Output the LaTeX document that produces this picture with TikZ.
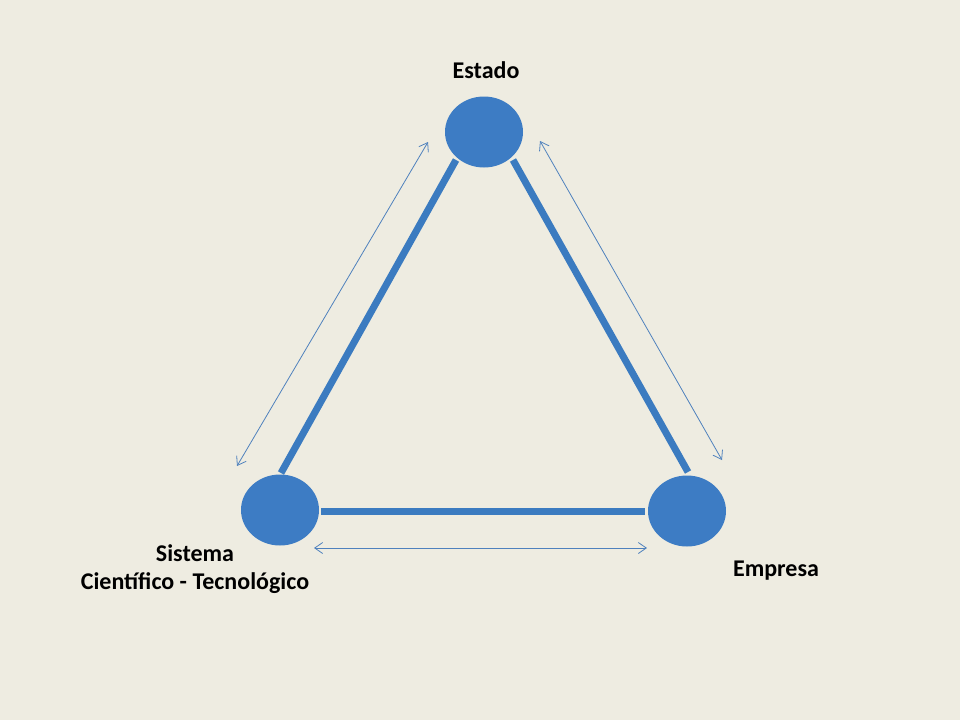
\documentclass[tikz,border=0pt]{standalone}
\usepackage{fontspec}
\setmainfont{Carlito}
\usetikzlibrary{shapes.geometric,arrows.meta,calc}
\definecolor{bg}{HTML}{EEECE1}
\definecolor{nodeblue}{HTML}{3D7CC4}
\definecolor{linkblue}{HTML}{3B7BC0}
\definecolor{arrblue}{HTML}{4F81BD}
\tikzset{
  actor/.style={ellipse,fill=nodeblue,minimum width=78pt,minimum height=71pt,inner sep=0pt},
  link/.style={draw=linkblue,line width=7pt},
  flow/.style={draw=arrblue,line width=0.8pt,{Straight Barb[length=8pt,width=11pt]}-{Straight Barb[length=8pt,width=11pt]}},
  lbl/.style={font=\bfseries\fontsize{24}{28}\selectfont,text=black,align=center,inner sep=0pt}
}
\begin{document}
\begin{tikzpicture}[x=1pt,y=-1pt]
\fill[bg] (0,0) rectangle (960,720);
\useasboundingbox (0,0) rectangle (960,720);
\node[actor] (E) at (484,132) {};
\node[actor] (S) at (280,510) {};
\node[actor] (M) at (687,511) {};
\coordinate (e1) at ($(E)+(-28,28)$);
\coordinate (s1) at ($(S)+(1,-37)$);
\coordinate (e2) at ($(E)+(29,28)$);
\coordinate (m2) at ($(M)+(1,-39)$);
\coordinate (s3) at ($(S)+(41,1)$);
\coordinate (m3) at ($(M)+(-42,0)$);
\draw[link] (e1) -- (s1);
\draw[link] (e2) -- (m2);
\draw[link] (s3) -- (m3);
\coordinate (a1) at ($(E)+(-56,10)$);
\coordinate (b1) at ($(S)+(-43,-44)$);
\coordinate (a2) at ($(E)+(56,9)$);
\coordinate (b2) at ($(M)+(35,-51)$);
\coordinate (a3) at ($(S)+(34,38)$);
\coordinate (b3) at ($(M)+(-40,37)$);
\draw[flow] (a1) -- (b1);
\draw[flow] (a2) -- (b2);
\draw[flow] (a3) -- (b3);
\node[lbl] (tE) at (486,70) {Estado};
\node[lbl] (tS) at (195,569) {Sistema\\Científico - Tecnológico};
\node[lbl] (tM) at (776,571) {Empresa};
\end{tikzpicture}
\end{document}
